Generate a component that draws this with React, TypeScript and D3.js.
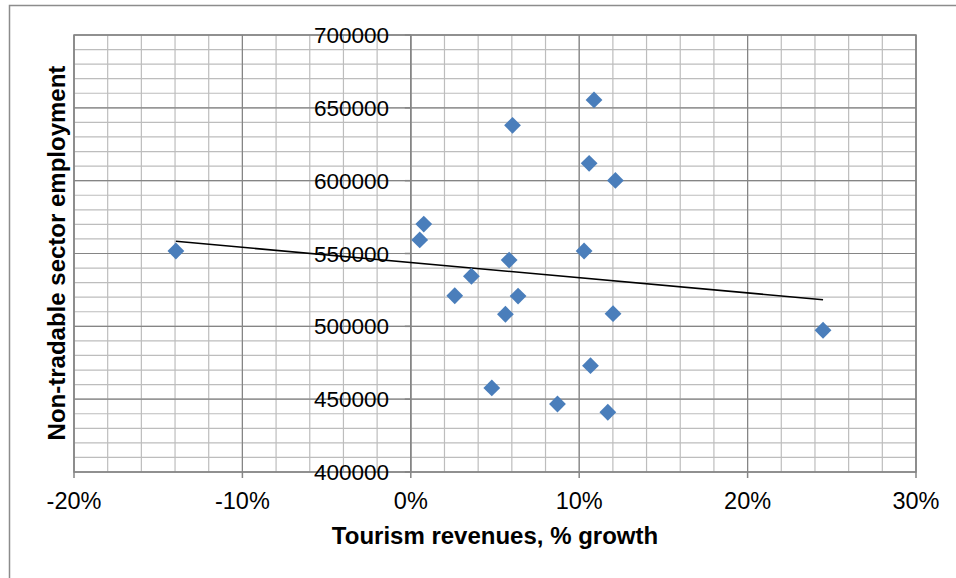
import React from "react";
import * as d3 from "d3";

// Tourism revenue growth (fraction) against non-tradable sector employment
const revenueGrowth = [
  -0.1395, 0.0053, 0.0077, 0.0261, 0.036, 0.0481, 0.0562, 0.0584, 0.0604, 0.0637,
  0.0871, 0.1029, 0.1059, 0.1067, 0.1088, 0.117, 0.1201, 0.1215, 0.2448,
];
const employment = [
  551700, 559300, 570200, 521000, 534400, 457700, 508300, 545500, 638000, 520800,
  446700, 551700, 611900, 473000, 655400, 441000, 508700, 600200, 497300,
];

const xTicks = [-0.2, -0.1, 0, 0.1, 0.2, 0.3];
const yTicks = [400000, 450000, 500000, 550000, 600000, 650000, 700000];

const W = 956;
const H = 578;
const plot = { left: 74, right: 916, top: 35, bottom: 472 };

const FONT = "'Liberation Sans', Arial, sans-serif";
const MARKER = "#4a7ebb";

export default function App() {
  const x = d3.scaleLinear().domain([-0.2, 0.3]).range([plot.left, plot.right]);
  const y = d3.scaleLinear().domain([400000, 700000]).range([plot.bottom, plot.top]);

  const minorX = d3.range(-0.2, 0.3001, 0.02).map((v) => +v.toFixed(4));
  const minorY = d3.range(400000, 700001, 10000);

  // least-squares trend line across the data range
  const n = revenueGrowth.length;
  const mx = d3.mean(revenueGrowth)!;
  const my = d3.mean(employment)!;
  let sxy = 0;
  let sxx = 0;
  for (let i = 0; i < n; i++) {
    sxy += (revenueGrowth[i] - mx) * (employment[i] - my);
    sxx += (revenueGrowth[i] - mx) ** 2;
  }
  const slope = sxy / sxx;
  const intercept = my - slope * mx;
  const [x0, x1] = d3.extent(revenueGrowth) as [number, number];
  const trend = d3.line<number>()
    .x((d) => x(d))
    .y((d) => y(intercept + slope * d))([x0, x1]);

  const diamond = d3.symbol().type(d3.symbolDiamond2).size(180)();

  return (
    <svg
      width={W}
      height={H}
      style={{ position: "absolute", left: 0, top: 0, background: "#fff" }}
      fontFamily={FONT}
    >
      {/* chart frame */}
      <rect x={9.5} y={5.5} width={1200} height={1200} fill="none" stroke="#8c8c8c" strokeWidth={1.5} />

      {/* minor grid */}
      {minorX.map((v) => (
        <line key={"mx" + v} x1={x(v)} x2={x(v)} y1={plot.top} y2={plot.bottom} stroke="#bdbdbd" strokeWidth={1.2} />
      ))}
      {minorY.map((v) => (
        <line key={"my" + v} x1={plot.left} x2={plot.right} y1={y(v)} y2={y(v)} stroke="#bdbdbd" strokeWidth={1.2} />
      ))}
      {/* major grid */}
      {xTicks.map((v) => (
        <line key={"gx" + v} x1={x(v)} x2={x(v)} y1={plot.top} y2={plot.bottom} stroke="#858585" strokeWidth={1.2} />
      ))}
      {yTicks.map((v) => (
        <line key={"gy" + v} x1={plot.left} x2={plot.right} y1={y(v)} y2={y(v)} stroke="#858585" strokeWidth={1.2} />
      ))}
      <rect
        x={plot.left}
        y={plot.top}
        width={plot.right - plot.left}
        height={plot.bottom - plot.top}
        fill="none"
        stroke="#858585"
        strokeWidth={1.5}
      />

      {/* x axis ticks */}
      {xTicks.map((v) => (
        <line key={"tx" + v} x1={x(v)} x2={x(v)} y1={plot.bottom} y2={plot.bottom + 6} stroke="#858585" strokeWidth={1.5} />
      ))}
      {/* y axis at x = 0 */}
      <line x1={x(0)} x2={x(0)} y1={plot.top} y2={plot.bottom} stroke="#858585" strokeWidth={1.5} />
      {yTicks.map((v) => (
        <line key={"ty" + v} x1={x(0) - 6} x2={x(0)} y1={y(v)} y2={y(v)} stroke="#858585" strokeWidth={1.5} />
      ))}

      {/* y tick labels */}
      {yTicks.map((v) => (
        <text key={"ly" + v} x={389} y={y(v) + 8} textAnchor="end" fontSize={22.5} fill="#000">
          {v}
        </text>
      ))}
      {/* x tick labels */}
      {xTicks.map((v) => (
        <text key={"lx" + v} x={x(v)} y={509} textAnchor="middle" fontSize={23.5} fill="#000">
          {d3.format(".0%")(v).replace("−", "-")}
        </text>
      ))}

      {/* trend line */}
      <path d={trend ?? ""} fill="none" stroke="#000" strokeWidth={1.6} />

      {/* points */}
      {revenueGrowth.map((v, i) => (
        <path key={"p" + i} d={diamond ?? ""} transform={`translate(${x(v)},${y(employment[i])})`} fill={MARKER} />
      ))}

      {/* axis titles */}
      <text x={495} y={544} textAnchor="middle" fontSize={24} fontWeight="bold" fill="#000">
        Tourism revenues, % growth
      </text>
      <text
        transform={`translate(65,253) rotate(-90)`}
        textAnchor="middle"
        fontSize={24}
        fontWeight="bold"
        fill="#000"
      >
        Non-tradable sector employment
      </text>
    </svg>
  );
}
